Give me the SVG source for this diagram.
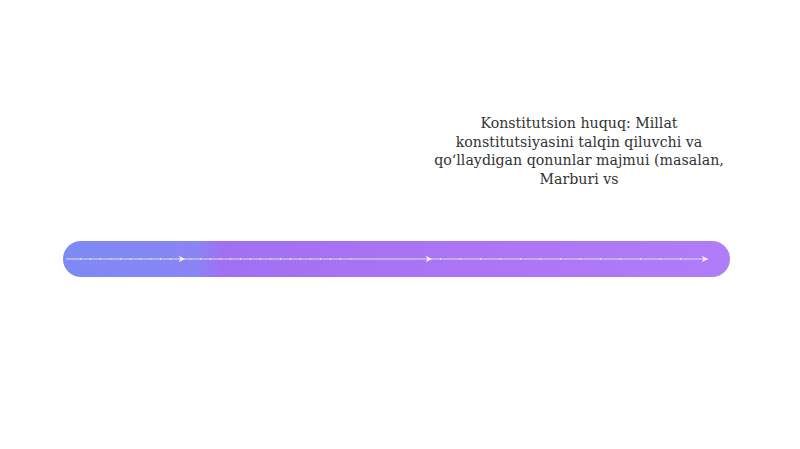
<svg xmlns="http://www.w3.org/2000/svg" width="800" height="449" viewBox="0 0 800 449">
<style>
.lbl{font-family:"DejaVu Serif","Liberation Serif",serif;font-size:14.2px;fill:#333333;text-anchor:middle}
.flow{stroke:#ffffff;stroke-width:1.2;stroke-opacity:0.75;fill:none}
.dots{stroke:#ffffff;stroke-width:1.6;stroke-opacity:0.7;fill:none;stroke-dasharray:1 9}
</style>
<defs>
<linearGradient id="g" x1="63" y1="0" x2="730" y2="0" gradientUnits="userSpaceOnUse">
<stop offset="0" stop-color="#7c8af6"/>
<stop offset="0.2" stop-color="#8a84f6"/>
<stop offset="0.24" stop-color="#a070f4"/>
<stop offset="0.45" stop-color="#a872f5"/>
<stop offset="1" stop-color="#b17cf8"/>
</linearGradient>
<marker id="ah" viewBox="0 0 10 10" refX="9" refY="5" markerWidth="8" markerHeight="8" orient="auto" markerUnits="userSpaceOnUse">
<path d="M1,1 L9,5 L1,9 L3.5,5 z" fill="#ffffff" fill-opacity="0.9"/>
</marker>
</defs>
<rect width="800" height="449" fill="#ffffff"/>
<g id="bar">
<rect x="63" y="241" width="667" height="36" rx="18" ry="18" fill="url(#g)"/>
</g>
<g id="connectors">
<line class="flow" x1="66" y1="259" x2="185" y2="259" marker-end="url(#ah)"/>
<line class="flow" x1="185" y1="259" x2="432" y2="259" marker-end="url(#ah)"/>
<line class="flow" x1="432" y1="259" x2="708" y2="259" marker-end="url(#ah)"/>
<line class="dots" x1="80" y1="259" x2="360" y2="259"/>
<line class="dots" x1="440" y1="259" x2="700" y2="259" style="stroke-dasharray:1 19"/>
</g>
<g id="label">
<text class="lbl" x="579" y="128">Konstitutsion huquq: Millat</text>
<text class="lbl" x="579" y="146.5">konstitutsiyasini talqin qiluvchi va</text>
<text class="lbl" x="579" y="165">qoʻllaydigan qonunlar majmui (masalan,</text>
<text class="lbl" x="579" y="183.5">Marburi vs</text>
</g>
</svg>
